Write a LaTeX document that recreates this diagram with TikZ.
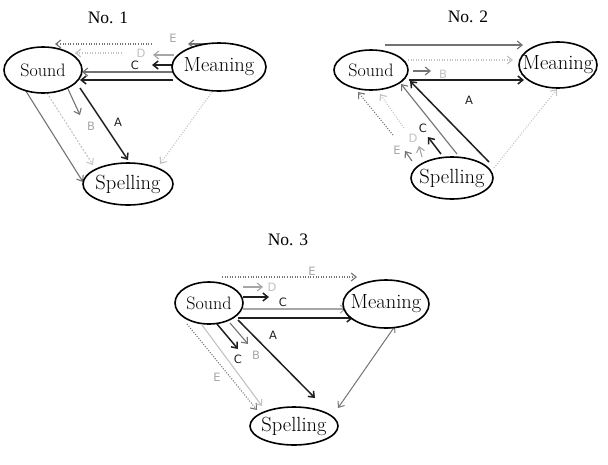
\documentclass[tikz,border=0pt]{standalone}
\usepackage{fontspec}
\usetikzlibrary{shapes.geometric,arrows.meta}
\newfontfamily\titlefont{Liberation Serif}
\newfontfamily\lblfont{DejaVu Sans}
\definecolor{dk}{gray}{0.12}
\definecolor{md}{gray}{0.45}
\definecolor{lt}{gray}{0.65}
\definecolor{vl}{gray}{0.76}
\begin{document}
\begin{tikzpicture}[x=1pt,y=-1pt,
  ell/.style={draw=black, line width=1.6pt, ellipse, inner xsep=-14pt, inner ysep=-7pt, fill=white,
    font=\fontsize{20.5}{22}\selectfont},
  snd/.style={ell, font=\fontsize{18}{20}\selectfont},
  ttl/.style={font=\titlefont\fontsize{17.5}{19}\selectfont},
  lbl/.style={font=\lblfont\fontsize{11.5}{12}\selectfont, inner sep=0pt},
  arr/.style={-{Straight Barb[length=5pt,width=8pt]}},
  darr/.style={{Straight Barb[length=5pt,width=8pt]}-{Straight Barb[length=5pt,width=8pt]}},
  blk/.style={arr, draw=dk, line width=1.5pt},
  gry/.style={arr, draw=md, line width=1.1pt},
  lgt/.style={arr, draw=lt, line width=1.1pt},
  dotg/.style={arr, draw=md, line width=1.1pt, dash pattern=on 1pt off 1.6pt},
  dotl/.style={arr, draw=vl, line width=1.1pt, dash pattern=on 1pt off 1.6pt},
  dashl/.style={arr, draw=vl, line width=1pt, dash pattern=on 2pt off 1.5pt},
]
\useasboundingbox (0,0) rectangle (608,464);

% ================= No. 1 =================
\node[ttl] (t1) at (108,18) {No. 1};
\coordinate (e1a) at (152,44);  \coordinate (e1b) at (55,44);
\coordinate (e1c) at (212,44);  \coordinate (e1d) at (188,44);
\coordinate (d1a) at (122,53);  \coordinate (d1b) at (75,53);
\coordinate (d1c) at (174,55);  \coordinate (d1d) at (153,55);
\coordinate (c1a) at (174,65);  \coordinate (c1b) at (152,65);
\coordinate (g1a) at (173,72);  \coordinate (g1b) at (82,72);
\coordinate (k1a) at (173,80);  \coordinate (k1b) at (80,80);
\coordinate (a1a) at (80,88);   \coordinate (a1b) at (128,160);
\coordinate (b1a) at (68,89);   \coordinate (b1b) at (80,115);
\coordinate (s1a) at (24,88);   \coordinate (s1b) at (83,182);
\coordinate (h1a) at (47,93);   \coordinate (h1b) at (93,165);
\coordinate (m1a) at (212,92);  \coordinate (m1b) at (160,164);

\draw[dotg] (e1a) -- (e1b);
\draw[gry] (e1c) -- (e1d);
\draw[dotl] (d1a) -- (d1b);
\draw[lgt] (d1c) -- (d1d);
\draw[blk] (c1a) -- (c1b);
\draw[gry] (g1a) -- (g1b);
\draw[blk] (k1a) -- (k1b);
\draw[blk] (a1a) -- (a1b);
\draw[gry] (b1a) -- (b1b);
\draw[gry] (s1a) -- (s1b);
\draw[dashl] (h1a) -- (h1b);
\draw[dotl] (m1a) -- (m1b);

\node[lbl, text=lt] (le1) at (173,38) {E};
\node[lbl, text=vl] (ld1) at (141,53) {D};
\node[lbl, text=dk] (lc1) at (135,65) {C};
\node[lbl, text=dk] (la1) at (118,122) {A};
\node[lbl, text=lt] (lb1) at (91,126) {B};

\node[snd, minimum width=78pt, minimum height=46pt] (sound1) at (43,70) {Sound};
\node[ell, minimum width=94pt, minimum height=48pt] (mean1) at (219,67) {Meaning};
\node[ell, minimum width=90pt, minimum height=42pt] (spell1) at (128,184) {Spelling};

% ================= No. 2 =================
\node[ttl] (t2) at (468,17) {No. 2};
\coordinate (g2a) at (385,45);  \coordinate (g2b) at (523,45);
\coordinate (l2a) at (408,60);  \coordinate (l2b) at (513,60);
\coordinate (b2a) at (413,71);  \coordinate (b2b) at (431,71);
\coordinate (k2a) at (409,80);  \coordinate (k2b) at (524,80);
\coordinate (x2a) at (489,162); \coordinate (x2b) at (410,81);
\coordinate (y2a) at (457,154); \coordinate (y2b) at (401,84);
\coordinate (c2a) at (441,154); \coordinate (c2b) at (428,137);
\coordinate (d2a) at (404,128); \coordinate (d2b) at (380,94);
\coordinate (d2c) at (422,157); \coordinate (d2d) at (419,146);
\coordinate (e2a) at (412,161); \coordinate (e2b) at (405,151);
\coordinate (o2a) at (393,135); \coordinate (o2b) at (358,92);
\coordinate (p2a) at (494,168); \coordinate (p2b) at (557,89);

\draw[gry] (g2a) -- (g2b);
\draw[dotl] (l2a) -- (l2b);
\draw[gry] (b2a) -- (b2b);
\draw[blk] (k2a) -- (k2b);
\draw[blk] (x2a) -- (x2b);
\draw[gry] (y2a) -- (y2b);
\draw[blk] (c2a) -- (c2b);
\draw[dotl] (d2a) -- (d2b);
\draw[lgt] (d2c) -- (d2d);
\draw[gry] (e2a) -- (e2b);
\draw[dotg] (o2a) -- (o2b);
\draw[dotl] (p2a) -- (p2b);

\node[lbl, text=vl] (lb2) at (443,74) {B};
\node[lbl, text=dk] (la2) at (469,100) {A};
\node[lbl, text=dk] (lc2) at (423,128) {C};
\node[lbl, text=vl] (ld2) at (413,138) {D};
\node[lbl, text=lt] (le2) at (397,150) {E};

\node[snd, minimum width=74pt, minimum height=40pt] (sound2) at (371,70) {Sound};
\node[ell, minimum width=78pt, minimum height=46pt] (mean2) at (558,65) {Meaning};
\node[ell, minimum width=82pt, minimum height=42pt] (spell2) at (452,178) {Spelling};

% ================= No. 3 =================
\node[ttl] (t3) at (288,240) {No. 3};
\coordinate (e3a) at (222,277); \coordinate (e3b) at (357,277);
\coordinate (d3a) at (243,287); \coordinate (d3b) at (263,287);
\coordinate (c3a) at (243,297); \coordinate (c3b) at (269,297);
\coordinate (g3a) at (243,309); \coordinate (g3b) at (346,309);
\coordinate (k3a) at (238,318); \coordinate (k3b) at (353,318);
\coordinate (a3a) at (238,320); \coordinate (a3b) at (315,398);
\coordinate (q3a) at (217,324); \coordinate (q3b) at (238,349);
\coordinate (b3a) at (230,323); \coordinate (b3b) at (248,344);
\coordinate (o3a) at (187,324); \coordinate (o3b) at (257,410);
\coordinate (l3a) at (202,325); \coordinate (l3b) at (262,406);
\coordinate (m3a) at (395,326); \coordinate (m3b) at (338,408);

\draw[dotg] (e3a) -- (e3b);
\draw[lgt] (d3a) -- (d3b);
\draw[blk] (c3a) -- (c3b);
\draw[gry, draw=lt] (g3a) -- (g3b);
\draw[blk] (k3a) -- (k3b);
\draw[blk] (a3a) -- (a3b);
\draw[blk] (q3a) -- (q3b);
\draw[gry] (b3a) -- (b3b);
\draw[dotg] (o3a) -- (o3b);
\draw[lgt, draw=vl] (l3a) -- (l3b);
\draw[darr, draw=md, line width=1pt] (m3a) -- (m3b);

\node[lbl, text=lt] (le3) at (312,271) {E};
\node[lbl, text=vl] (ld3) at (272,287) {D};
\node[lbl, text=dk] (lc3) at (283,302) {C};
\node[lbl, text=dk] (la3) at (273,335) {A};
\node[lbl, text=dk] (lq3) at (238,359) {C};
\node[lbl, text=lt] (lb3) at (256,355) {B};
\node[lbl, text=lt] (lo3) at (217,377) {E};

\node[snd, minimum width=68pt, minimum height=42pt] (sound3) at (209,303) {Sound};
\node[ell, minimum width=86pt, minimum height=48pt] (mean3) at (386,304) {Meaning};
\node[ell, minimum width=88pt, minimum height=38pt] (spell3) at (294,426) {Spelling};
\end{tikzpicture}
\end{document}
